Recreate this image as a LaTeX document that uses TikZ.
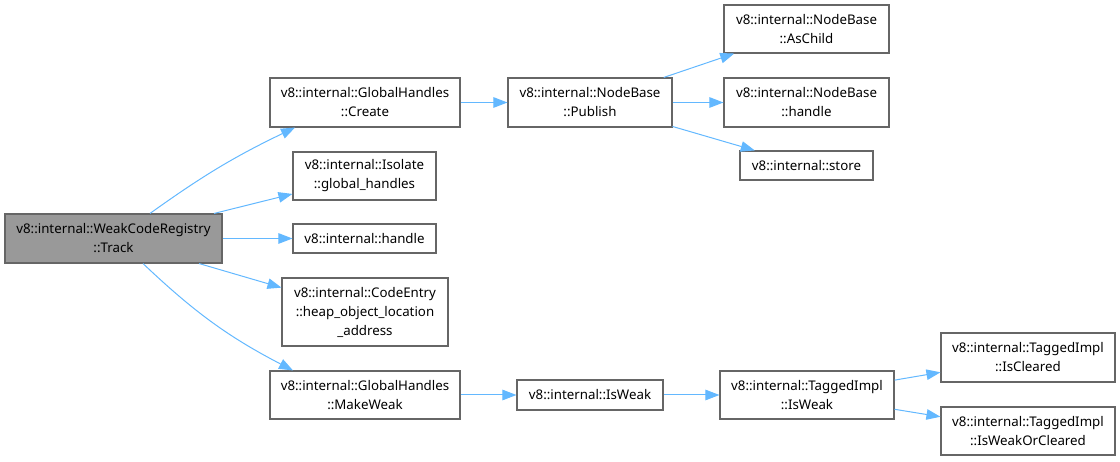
\documentclass[tikz,border=0pt]{standalone}
\usepackage{fontspec}
\setmainfont{Noto Sans}
\usetikzlibrary{arrows.meta}
\definecolor{edgeblue}{HTML}{63B8FF}
\definecolor{boxgray}{HTML}{666666}
\definecolor{curfill}{HTML}{999999}

\begin{document}
\begin{tikzpicture}[x=1pt,y=1pt,
	fn/.style={draw=boxgray,line width=1.1pt,fill=white,align=center,inner sep=0pt,
		font=\fontsize{13.3}{19}\selectfont},
	call/.style={draw=edgeblue,line width=1pt,-{Triangle[length=14pt,width=10.5pt]}}]
	\useasboundingbox (0,0) rectangle (1120,461);

	\node[fn,fill=curfill,minimum width=217pt,minimum height=49pt] (track) at (113.5,222.5) {v8::internal::WeakCodeRegistry\\::Track};

	\node[fn,minimum width=190pt,minimum height=49pt] (create) at (365,358.5) {v8::internal::GlobalHandles\\::Create};
	\node[fn,minimum width=143pt,minimum height=48pt] (isolate) at (364.5,285) {v8::internal::Isolate\\::global\_handles};
	\node[fn,minimum width=143pt,minimum height=29pt] (handle) at (364.5,222.5) {v8::internal::handle};
	\node[fn,minimum width=166pt,minimum height=68pt] (codeentry) at (365,149) {v8::internal::CodeEntry\\::heap\_object\_location\\\_address};
	\node[fn,minimum width=190pt,minimum height=48pt] (makeweak) at (365,66) {v8::internal::GlobalHandles\\::MakeWeak};

	\node[fn,minimum width=164pt,minimum height=49pt] (publish) at (590,358.5) {v8::internal::NodeBase\\::Publish};
	\node[fn,minimum width=146pt,minimum height=30pt] (isweak) at (590,66) {v8::internal::IsWeak};

	\node[fn,minimum width=165pt,minimum height=48pt] (aschild) at (806.5,432) {v8::internal::NodeBase\\::AsChild};
	\node[fn,minimum width=165pt,minimum height=49pt] (nbhandle) at (806.5,358.5) {v8::internal::NodeBase\\::handle};
	\node[fn,minimum width=133pt,minimum height=29pt] (store) at (806.5,295.5) {v8::internal::store};
	\node[fn,minimum width=174pt,minimum height=48pt] (tiweak) at (807,66) {v8::internal::TaggedImpl\\::IsWeak};

	\node[fn,minimum width=174pt,minimum height=49pt] (iscleared) at (1028,103.5) {v8::internal::TaggedImpl\\::IsCleared};
	\node[fn,minimum width=174pt,minimum height=48pt] (isweakor) at (1028,30) {v8::internal::TaggedImpl\\::IsWeakOrCleared};

	% calls
	\draw[call] ([xshift=36.5pt]track.north) to[bend left=5] ([xshift=-70pt]create.south);
	\draw[call] ([xshift=29.5pt]track.south) to[bend right=8] ([xshift=-72pt]makeweak.north);

	\foreach \i / \j in {
	track/isolate, track/handle, track/codeentry,
	create/publish,
	publish/aschild, publish/nbhandle, publish/store,
	makeweak/isweak, isweak/tiweak,
	tiweak/iscleared, tiweak/isweakor}
	{
		\path (\i) edge[call] (\j);
	};
\end{tikzpicture}
\end{document}
